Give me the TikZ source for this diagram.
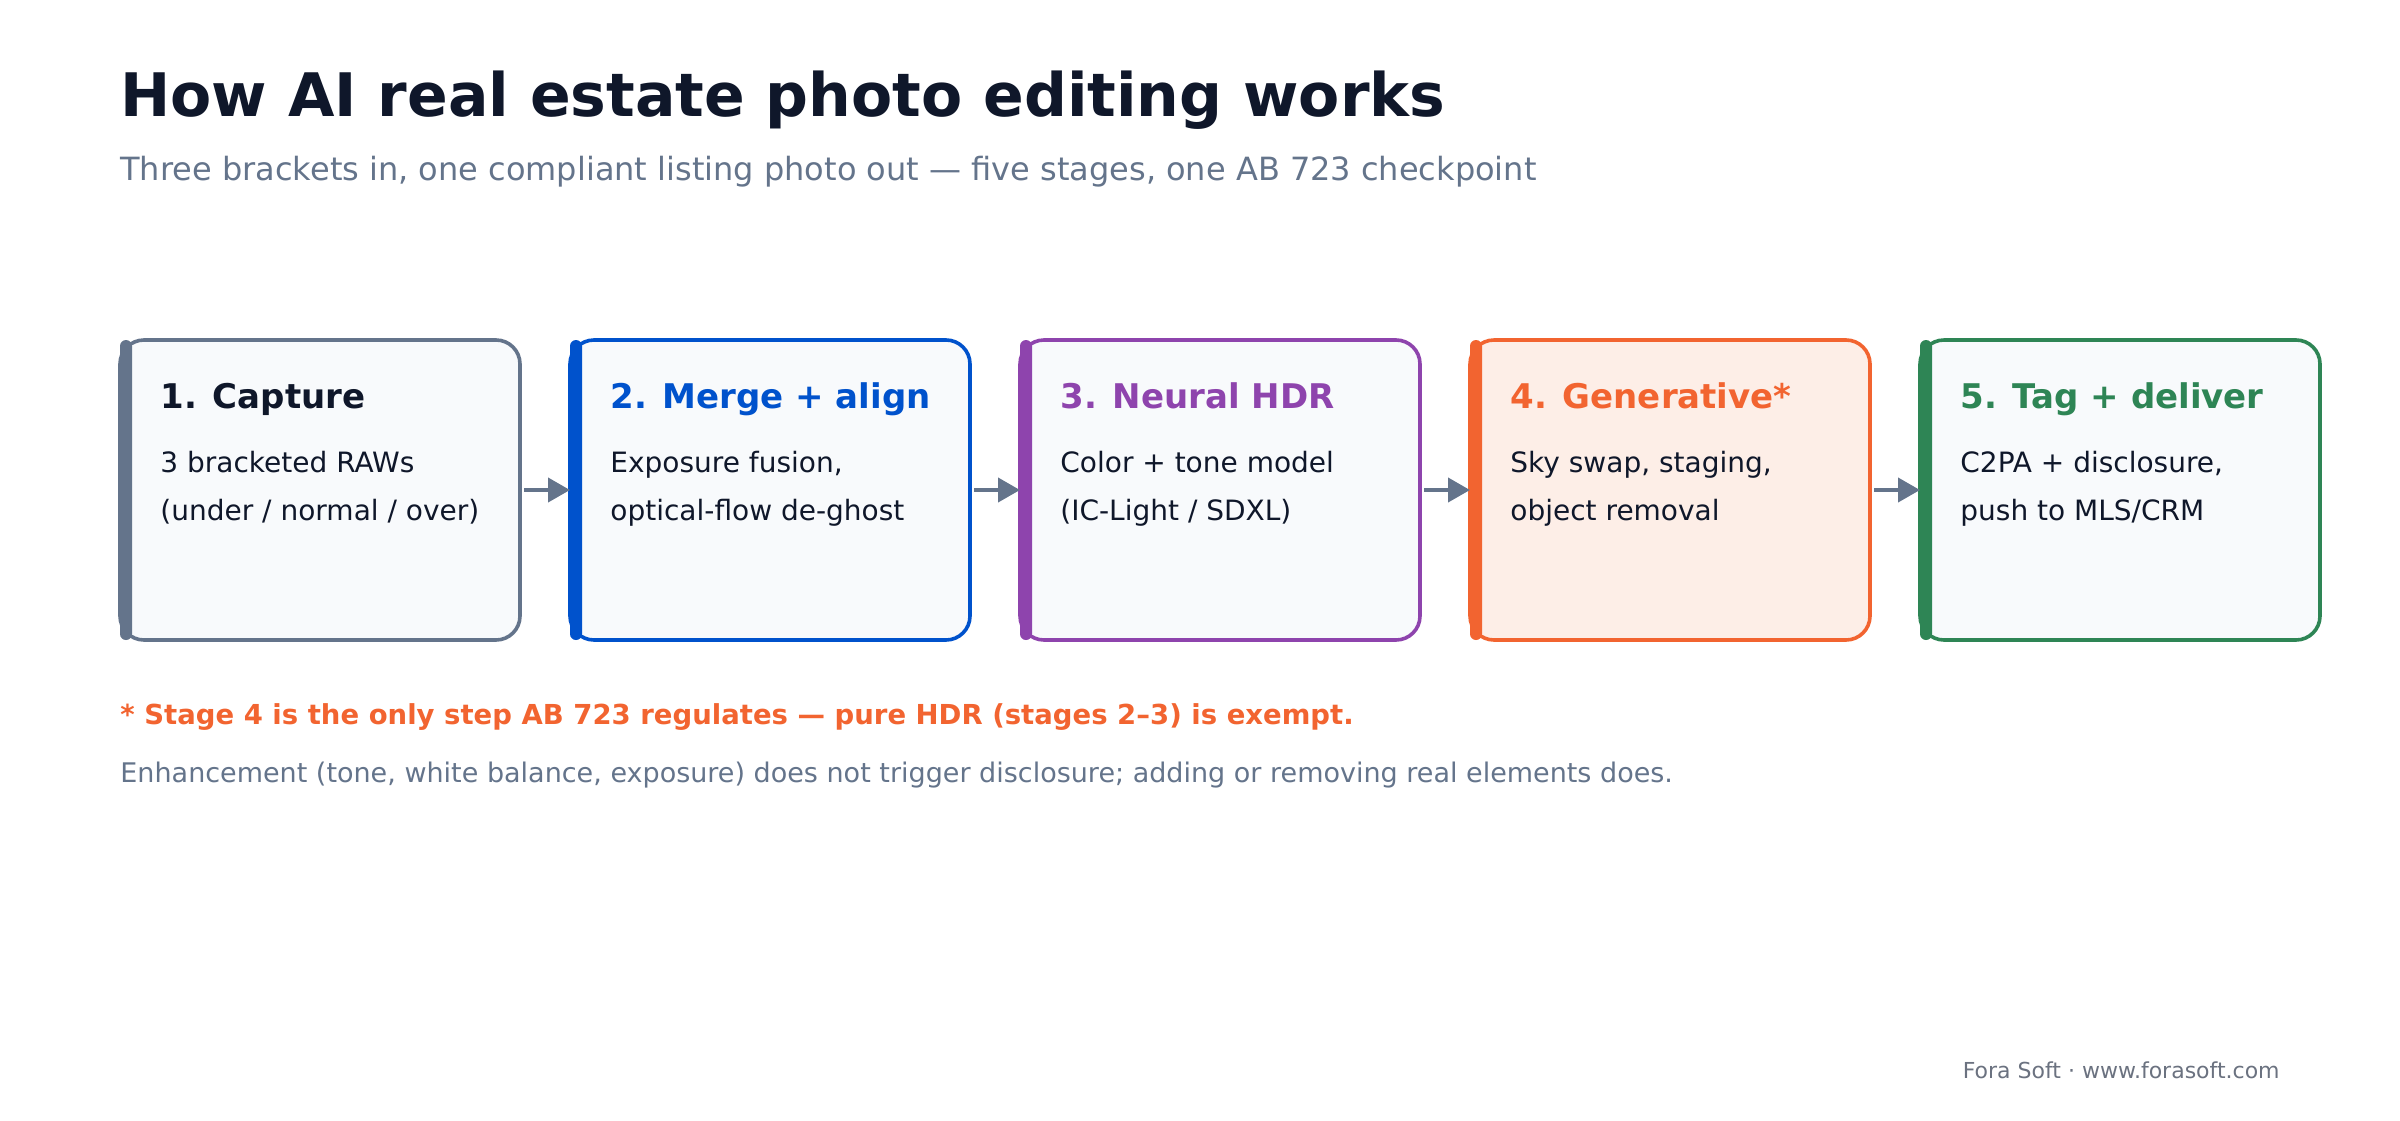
\documentclass[tikz,border=0pt]{standalone}
\usepackage{fontspec}
\setmainfont{DejaVu Sans}
\usepackage{xcolor}
\usetikzlibrary{arrows.meta,positioning,calc}
\definecolor{inkdark}{HTML}{0F172A}
\definecolor{slategray}{HTML}{64748B}
\definecolor{mergeblue}{HTML}{0052CC}
\definecolor{hdrpurple}{HTML}{8E44AD}
\definecolor{genorange}{HTML}{F26430}
\definecolor{gentint}{HTML}{FDEEE7}
\definecolor{taggreen}{HTML}{2E8555}
\definecolor{panelbg}{HTML}{F8FAFC}
\definecolor{footgray}{HTML}{6B7280}

\begin{document}
\begin{tikzpicture}[x=1pt, y=-1pt,
    stagebox/.style={draw, rounded corners=12pt, line width=1.8pt, minimum width=200pt,
        minimum height=150pt, inner sep=0pt, outer sep=0pt},
    stagetitle/.style={anchor=base west, inner sep=0pt, font=\fontsize{17}{20}\selectfont\bfseries},
    stagetext/.style={anchor=base west, inner sep=0pt, align=left, text=inkdark,
        font=\fontsize{14}{24}\selectfont},
    flow/.style={-{Triangle[length=11pt,width=12pt]}, line width=2pt, slategray, shorten <=2pt}]
        % Canvas
        \fill[white] (0,0) rectangle (1200,560);
        \useasboundingbox (0,0) rectangle (1200,560);

        % Heading
        \node[anchor=base west, inner sep=0pt, text=inkdark, font=\fontsize{30}{36}\selectfont\bfseries]
            (heading) at (60,58) {How AI real estate photo editing works};
        \node[anchor=base west, inner sep=0pt, text=slategray, font=\fontsize{16}{20}\selectfont]
            (subheading) at (60,90) {Three brackets in, one compliant listing photo out — five stages, one AB 723 checkpoint};

        % Stage boxes
        \node[stagebox, draw=slategray, fill=panelbg] (capture) at (160,245) {};
        \node[stagebox, draw=mergeblue, fill=panelbg, right=25pt of capture] (merge) {};
        \node[stagebox, draw=hdrpurple, fill=panelbg, right=25pt of merge] (hdr) {};
        \node[stagebox, draw=genorange, fill=gentint, right=25pt of hdr] (generative) {};
        \node[stagebox, draw=taggreen, fill=panelbg, right=25pt of generative] (deliver) {};

        % Accent stripes
        \fill[slategray, rounded corners=3pt] (capture.north west) rectangle ++(6,150);
        \fill[mergeblue, rounded corners=3pt] (merge.north west) rectangle ++(6,150);
        \fill[hdrpurple, rounded corners=3pt] (hdr.north west) rectangle ++(6,150);
        \fill[genorange, rounded corners=3pt] (generative.north west) rectangle ++(6,150);
        \fill[taggreen, rounded corners=3pt] (deliver.north west) rectangle ++(6,150);

        % Capture
        \node[stagetitle, text=inkdark] (captureTitle) at ([xshift=20pt,yshift=-34pt]capture.north west) {1. Capture};
        \node[stagetext] (captureText) at ([xshift=20pt,yshift=-90pt]capture.north west)
            {3 bracketed RAWs\\(under / normal / over)};

        % Merge + align
        \node[stagetitle, text=mergeblue] (mergeTitle) at ([xshift=20pt,yshift=-34pt]merge.north west) {2. Merge + align};
        \node[stagetext] (mergeText) at ([xshift=20pt,yshift=-90pt]merge.north west)
            {Exposure fusion,\\optical-flow de-ghost};

        % Neural HDR
        \node[stagetitle, text=hdrpurple] (hdrTitle) at ([xshift=20pt,yshift=-34pt]hdr.north west) {3. Neural HDR};
        \node[stagetext] (hdrText) at ([xshift=20pt,yshift=-90pt]hdr.north west)
            {Color + tone model\\(IC-Light / SDXL)};

        % Generative
        \node[stagetitle, text=genorange] (generativeTitle) at ([xshift=20pt,yshift=-34pt]generative.north west) {4. Generative*};
        \node[stagetext] (generativeText) at ([xshift=20pt,yshift=-90pt]generative.north west)
            {Sky swap, staging,\\object removal};

        % Tag + deliver
        \node[stagetitle, text=taggreen] (deliverTitle) at ([xshift=20pt,yshift=-34pt]deliver.north west) {5. Tag + deliver};
        \node[stagetext] (deliverText) at ([xshift=20pt,yshift=-90pt]deliver.north west)
            {C2PA + disclosure,\\push to MLS/CRM};

        % Flow arrows
        \draw[flow] (capture.east) -- (merge.west);
        \draw[flow] (merge.east) -- (hdr.west);
        \draw[flow] (hdr.east) -- (generative.west);
        \draw[flow] (generative.east) -- (deliver.west);

        % Notes
        \node[anchor=base west, inner sep=0pt, text=genorange, font=\fontsize{13.75}{16}\selectfont\bfseries]
            (footnote) at (60,362) {* Stage 4 is the only step AB 723 regulates — pure HDR (stages 2–3) is exempt.};
        \node[anchor=base west, inner sep=0pt, text=slategray, font=\fontsize{13.5}{16}\selectfont]
            (enhancement) at (60,391) {Enhancement (tone, white balance, exposure) does not trigger disclosure; adding or removing real elements does.};

        % Credit
        \node[anchor=base east, inner sep=0pt, text=footgray, font=\fontsize{11}{14}\selectfont]
            (credit) at (1140,539) {Fora Soft · www.forasoft.com};
    \end{tikzpicture}
\end{document}
